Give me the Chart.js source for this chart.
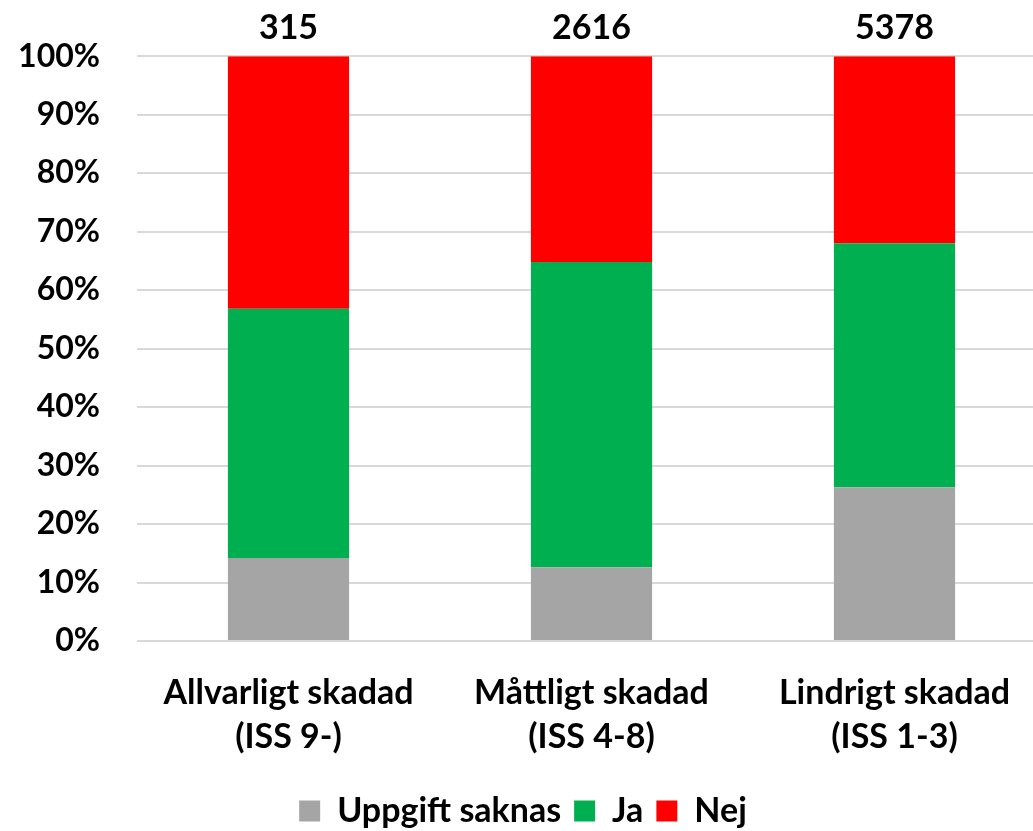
<!DOCTYPE html>
<html>
<head>
<meta charset="utf-8">
<script src="https://cdn.jsdelivr.net/npm/chart.js@4/dist/chart.umd.min.js"></script>
<style>
  html, body { margin: 0; padding: 0; background: #fff; overflow: hidden; }
  #wrap { position: relative; width: 1076px; height: 831px; }
</style>
</head>
<body>
<div id="wrap"><canvas id="chart"></canvas></div>
<script>
// Kategorier och värden (procent)
const categories = [['Allvarligt skadad', '(ISS 9-)'], ['Måttligt skadad', '(ISS 4-8)'], ['Lindrigt skadad', '(ISS 1-3)']];
const totals = [315, 2616, 5378];
const uppgiftSaknas = [14.2, 12.6, 26.3];
const ja = [42.6, 52.2, 41.7];
const nej = [43.2, 35.2, 32.0];
const yTicks = [0, 10, 20, 30, 40, 50, 60, 70, 80, 90, 100];

const FONT = 'Lato, "Noto Sans", sans-serif';

// Antal ovanför varje stapel
const totalsPlugin = {
  id: 'totals',
  afterDatasetsDraw(chart) {
    const { ctx, chartArea } = chart;
    const meta = chart.getDatasetMeta(chart.data.datasets.length - 1);
    ctx.save();
    ctx.font = 'bold 34px ' + FONT;
    ctx.fillStyle = '#000';
    ctx.textAlign = 'center';
    ctx.textBaseline = 'middle';
    meta.data.forEach((bar, i) => {
      ctx.fillText(String(totals[i]), bar.x, chartArea.top - 28);
    });
    ctx.restore();
  },
};

new Chart(document.getElementById('chart'), {
  type: 'bar',
  data: {
    labels: categories,
    datasets: [
      { label: 'Uppgift saknas', data: uppgiftSaknas, backgroundColor: '#A5A5A5' },
      { label: 'Ja', data: ja, backgroundColor: '#00B050' },
      { label: 'Nej', data: nej, backgroundColor: '#FF0000' },
    ],
  },
  options: {
    responsive: true,
    maintainAspectRatio: false,
    animation: false,
    layout: { padding: { top: 56, right: 30, left: 0, bottom: -7 } },
    datasets: { bar: { barPercentage: 0.4, categoryPercentage: 1 } },
    scales: {
      x: {
        stacked: true,
        grid: { display: false },
        border: { display: false },
        ticks: {
          color: '#000',
          padding: 22,
          font: { family: FONT, size: 34, weight: 'bold', lineHeight: 1.3 },
        },
        afterFit(scale) { scale.height = 140; },
      },
      y: {
        stacked: true,
        min: 0,
        max: 100,
        afterBuildTicks(scale) { scale.ticks = yTicks.map((v) => ({ value: v })); },
        grid: { color: '#D9D9D9', lineWidth: 2, drawTicks: false },
        border: { display: false },
        ticks: {
          color: '#000',
          padding: 37,
          font: { family: FONT, size: 32, weight: 'bold' },
          callback: (v) => v + '%',
        },
        afterFit(scale) { scale.width = 137; },
      },
    },
    plugins: {
      legend: {
        position: 'bottom',
        labels: {
          color: '#000',
          boxWidth: 21,
          boxHeight: 21,
          padding: 13,
          font: { family: FONT, size: 34, weight: 'bold' },
        },
      },
      tooltip: { enabled: false },
    },
  },
  plugins: [totalsPlugin],
});
</script>
</body>
</html>
